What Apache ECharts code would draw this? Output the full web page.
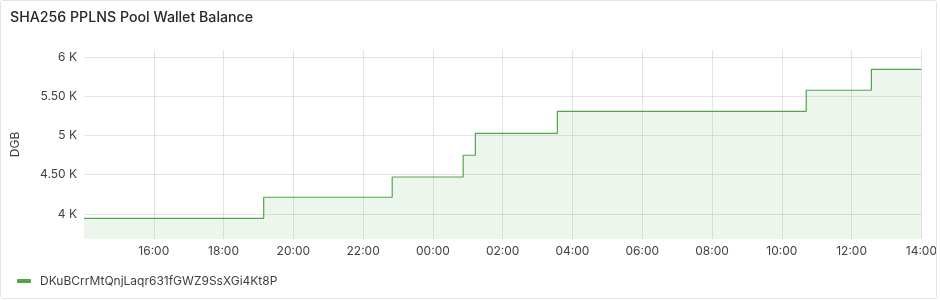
<!DOCTYPE html>
<html>
<head>
<meta charset="utf-8">
<script src="https://cdn.jsdelivr.net/npm/echarts@6/dist/echarts.min.js"></script>
<style>
  html, body { margin: 0; padding: 0; background: #fff; }
  #panel { position: absolute; left: 0; top: 0; width: 937px; height: 299px; box-sizing: border-box;
           border: 1px solid #e3e4e6; border-radius: 3px; overflow: hidden; background: #fff; }
  #chart { position: absolute; left: -1px; top: -1px; width: 940px; height: 300px; }
</style>
</head>
<body>
<div id="panel"><div id="chart"></div></div>
<script>
const titleText = 'SHA256 PPLNS Pool Wallet Balance';
const seriesName = 'DKuBCrrMtQnjLaqr631fGWZ9SsXGi4Kt8P';
const yAxisName = 'DGB';
const timeStart = '2024-05-20T14:00:00Z';
const timeEnd = '2024-05-21T14:00:00Z';
const times = [
  '2024-05-20T14:00:00Z', '2024-05-20T19:09:00Z', '2024-05-20T22:50:00Z',
  '2024-05-21T00:52:00Z', '2024-05-21T01:13:00Z', '2024-05-21T03:34:00Z',
  '2024-05-21T10:42:00Z', '2024-05-21T12:34:00Z', '2024-05-21T14:00:00Z'
];
const balances = [3945, 4213, 4471, 4748, 5028, 5308, 5576, 5843, 5843];
const yMin = 3681;
const yMax = 6089;

const FONT = 'Inter, "Noto Sans", sans-serif';
const TEXT = '#3d4248';
const GREEN = '#52a548';
const GRID = 'rgba(36,41,46,0.12)';
const data = times.map((t, i) => [Date.parse(t), balances[i]]);
const pad = n => (n < 10 ? '0' : '') + n;

const chart = echarts.init(document.getElementById('chart'), null, { renderer: 'canvas' });
chart.setOption({
  animation: false,
  backgroundColor: '#fff',
  textStyle: { fontFamily: FONT },
  title: {
    text: titleText, left: 5, top: 6,
    textStyle: { fontFamily: FONT, fontSize: 14.2, fontWeight: 500, color: '#24292e' }
  },
  grid: { left: 84, right: 17, top: 50, bottom: 61, containLabel: false },
  legend: {
    left: 12, top: 270, itemWidth: 14, itemHeight: 4, icon: 'roundRect',
    textStyle: { fontFamily: FONT, fontSize: 12, color: TEXT, padding: [0, 0, 0, 4] },
    data: [seriesName]
  },
  xAxis: {
    type: 'value',
    min: Date.parse(timeStart), max: Date.parse(timeEnd),
    interval: 2 * 3600 * 1000,
    axisLine: { show: false }, axisTick: { show: false },
    splitLine: { show: true, showMinLine: false, lineStyle: { color: GRID, width: 1 } },
    axisLabel: {
      showMinLabel: false, margin: 6,
      fontFamily: FONT, fontSize: 12, color: TEXT,
      formatter: v => { const d = new Date(v); return pad(d.getUTCHours()) + ':' + pad(d.getUTCMinutes()); }
    }
  },
  yAxis: {
    type: 'value', min: yMin, max: yMax, splitNumber: 5,
    name: yAxisName, nameLocation: 'middle', nameGap: 63, nameRotate: 90,
    nameTextStyle: { fontFamily: FONT, fontSize: 12, color: TEXT },
    axisLine: { show: false }, axisTick: { show: false },
    splitLine: { show: true, showMinLine: false, showMaxLine: false, lineStyle: { color: GRID, width: 1 } },
    axisLabel: {
      showMinLabel: false, showMaxLabel: false, margin: 7,
      fontFamily: FONT, fontSize: 12, color: TEXT,
      formatter: v => { const k = v / 1000; return (Number.isInteger(k) ? k : k.toFixed(2)) + ' K'; }
    }
  },
  series: [{
    name: seriesName, type: 'line', step: 'end', data: data,
    showSymbol: false, symbol: 'none',
    lineStyle: { color: GREEN, width: 1.2 },
    itemStyle: { color: GREEN },
    areaStyle: { color: GREEN, opacity: 0.1 }
  }]
});
</script>
</body>
</html>
